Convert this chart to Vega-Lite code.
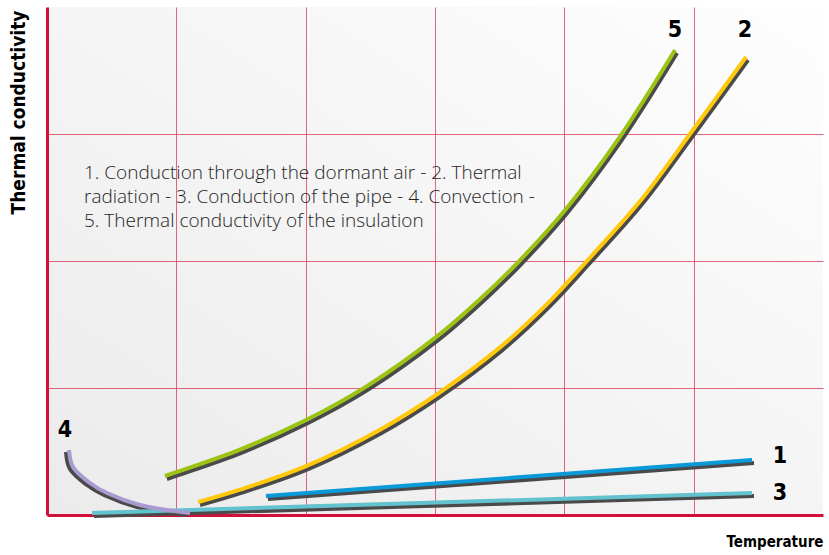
{
  "$schema": "https://vega.github.io/schema/vega-lite/v6.json",
  "width": 776,
  "height": 508,
  "autosize": "none",
  "padding": {"left": 47, "top": 7, "right": 6, "bottom": 40},
  "background": "#ffffff",
  "config": {
    "view": {
      "stroke": null,
      "fill": {"gradient": "linear", "x1": 0, "y1": 1, "x2": 1, "y2": 0, "stops": [{"offset": 0, "color": "#ebebeb"}, {"offset": 1, "color": "#fefefe"}]}
    }
  },
  "datasets": {
    "curves": [
      {"series": "5", "x": 0.912, "y": 0.307},
      {"series": "5", "x": 1.005, "y": 0.339},
      {"series": "5", "x": 1.492, "y": 0.515},
      {"series": "5", "x": 2.003, "y": 0.748},
      {"series": "5", "x": 2.474, "y": 1.015},
      {"series": "5", "x": 3.008, "y": 1.40},
      {"series": "5", "x": 3.333, "y": 1.685},
      {"series": "5", "x": 3.642, "y": 1.99},
      {"series": "5", "x": 4.005, "y": 2.40},
      {"series": "5", "x": 4.431, "y": 2.98},
      {"series": "5", "x": 4.856, "y": 3.661},
      {"series": "2", "x": 1.168, "y": 0.102},
      {"series": "2", "x": 1.492, "y": 0.20},
      {"series": "2", "x": 2.003, "y": 0.385},
      {"series": "2", "x": 2.575, "y": 0.672},
      {"series": "2", "x": 3.008, "y": 0.945},
      {"series": "2", "x": 3.503, "y": 1.32},
      {"series": "2", "x": 3.866, "y": 1.66},
      {"series": "2", "x": 4.175, "y": 2.0},
      {"series": "2", "x": 4.585, "y": 2.47},
      {"series": "2", "x": 4.972, "y": 3.0},
      {"series": "2", "x": 5.405, "y": 3.606},
      {"series": "1", "x": 1.693, "y": 0.150},
      {"series": "1", "x": 5.451, "y": 0.433},
      {"series": "3", "x": 0.348, "y": 0.016},
      {"series": "3", "x": 5.451, "y": 0.173},
      {"series": "4", "x": 0.170, "y": 0.512},
      {"series": "4", "x": 0.201, "y": 0.378},
      {"series": "4", "x": 0.332, "y": 0.252},
      {"series": "4", "x": 0.464, "y": 0.173},
      {"series": "4", "x": 0.719, "y": 0.079},
      {"series": "4", "x": 1.106, "y": 0.016}
    ],
    "labels": [
      {"label": "5", "x": 4.856, "y": 3.819},
      {"label": "2", "x": 5.397, "y": 3.819},
      {"label": "4", "x": 0.139, "y": 0.669},
      {"label": "1", "x": 5.668, "y": 0.465},
      {"label": "3", "x": 5.668, "y": 0.173}
    ],
    "note": [
      {"text": ["1. Conduction through the dormant air - 2. Thermal", "radiation - 3. Conduction of the pipe - 4. Convection -", "5. Thermal conductivity of the insulation"], "x": 0.286, "y": 2.762}
    ]
  },
  "encoding": {
    "x": {
      "field": "x", "type": "quantitative",
      "scale": {"domain": [0, 6], "nice": false, "zero": false},
      "axis": {
        "values": [1, 2, 3, 4, 5], "labels": false, "ticks": false,
        "domainColor": "#d0103a", "domainWidth": 3,
        "grid": true, "gridColor": "#d9405f", "gridOpacity": 0.8, "gridWidth": 1,
        "title": "Temperature", "titleFont": "'DejaVu Sans Condensed', Roboto, sans-serif", "titleFontSize": 15, "titleFontWeight": "bold", "titleColor": "#000000",
        "titleAnchor": "end", "titleAlign": "right", "titleBaseline": "middle", "titleX": 776, "titleY": 26
      }
    },
    "y": {
      "field": "y", "type": "quantitative",
      "scale": {"domain": [0, 4], "nice": false, "zero": false},
      "axis": {
        "values": [1, 2, 3], "labels": false, "ticks": false,
        "domainColor": "#d0103a", "domainWidth": 3,
        "grid": true, "gridColor": "#d9405f", "gridOpacity": 0.8, "gridWidth": 1,
        "title": "Thermal conductivity", "titleFont": "'DejaVu Sans Condensed', Roboto, sans-serif", "titleFontSize": 19, "titleFontWeight": "bold", "titleColor": "#000000",
        "titleAngle": -90, "titleAlign": "center", "titleBaseline": "middle", "titleX": -29, "titleY": 105
      }
    }
  },
  "layer": [
    {
      "data": {"name": "curves"},
      "transform": [{"filter": "datum.series != '4'"}],
      "mark": {"type": "line", "interpolate": "catmull-rom", "strokeWidth": 4, "color": "#4a4a4a", "xOffset": 2, "yOffset": 3, "strokeCap": "butt"},
      "encoding": {"detail": {"field": "series"}}
    },
    {
      "data": {"name": "curves"},
      "transform": [{"filter": "datum.series == '4'"}],
      "mark": {"type": "line", "interpolate": "catmull-rom", "strokeWidth": 4, "color": "#4a4a4a", "xOffset": -3, "yOffset": 2, "strokeCap": "butt"},
      "encoding": {"detail": {"field": "series"}}
    },
    {
      "data": {"name": "curves"},
      "mark": {"type": "line", "interpolate": "catmull-rom", "strokeWidth": 4, "strokeCap": "butt"},
      "encoding": {
        "color": {
          "field": "series", "type": "nominal", "legend": null,
          "scale": {"domain": ["1", "2", "3", "4", "5"], "range": ["#0a9ad8", "#ffc80a", "#62c2cd", "#a99bd0", "#9cc312"]}
        }
      }
    },
    {
      "data": {"name": "labels"},
      "mark": {"type": "text", "font": "'DejaVu Sans Condensed', Roboto, sans-serif", "fontSize": 23, "fontWeight": "bold", "color": "#000000", "align": "center", "baseline": "middle"},
      "encoding": {"text": {"field": "label"}}
    },
    {
      "data": {"name": "note"},
      "mark": {"type": "text", "font": "Open Sans", "fontSize": 19, "fontWeight": 300, "color": "#1e1e1e", "align": "left", "baseline": "top", "lineHeight": 24},
      "encoding": {"text": {"field": "text"}}
    }
  ]
}
